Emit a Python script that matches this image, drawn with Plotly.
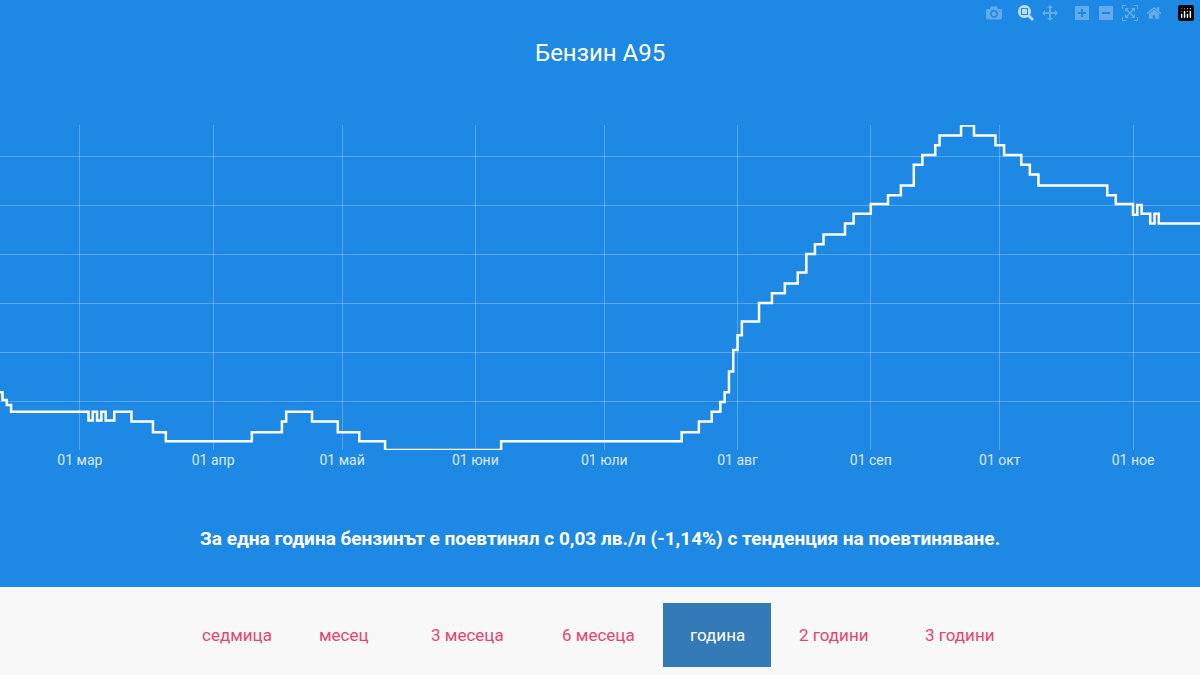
import plotly.graph_objects as go

# price steps (date of change, price)
dates = [
    "2021-02-10", "2021-02-11", "2021-02-12", "2021-02-13",
    "2021-03-03", "2021-03-04", "2021-03-05", "2021-03-06", "2021-03-07", "2021-03-09",
    "2021-03-13", "2021-03-18", "2021-03-21", "2021-04-10", "2021-04-17", "2021-04-18",
    "2021-04-24", "2021-04-30", "2021-05-05", "2021-05-11", "2021-06-07",
    "2021-07-19", "2021-07-23", "2021-07-26", "2021-07-28", "2021-07-29", "2021-07-30",
    "2021-07-31", "2021-08-01", "2021-08-02", "2021-08-06", "2021-08-09", "2021-08-12",
    "2021-08-15", "2021-08-17", "2021-08-19", "2021-08-21", "2021-08-26", "2021-08-28",
    "2021-09-01", "2021-09-05", "2021-09-08", "2021-09-11", "2021-09-13", "2021-09-16",
    "2021-09-17", "2021-09-22", "2021-09-25", "2021-09-30", "2021-10-02", "2021-10-06",
    "2021-10-08", "2021-10-10", "2021-10-26", "2021-10-28", "2021-11-01", "2021-11-02",
    "2021-11-03", "2021-11-05", "2021-11-06", "2021-11-07", "2021-11-17",
]
prices = [
    2.259, 2.251, 2.246, 2.239,
    2.230, 2.239, 2.230, 2.239, 2.230, 2.239,
    2.229, 2.218, 2.209, 2.218, 2.229, 2.239,
    2.229, 2.218, 2.209, 2.200, 2.209,
    2.218, 2.229, 2.239, 2.249, 2.259, 2.280,
    2.302, 2.317, 2.331, 2.350, 2.360, 2.370,
    2.381, 2.400, 2.410, 2.420, 2.431, 2.441,
    2.451, 2.460, 2.470, 2.491, 2.501, 2.511,
    2.521, 2.531, 2.521, 2.511, 2.501, 2.491,
    2.481, 2.470, 2.460, 2.451, 2.440, 2.450,
    2.441, 2.431, 2.441, 2.431, 2.431,
]
tick_vals = ["2021-03-01", "2021-04-01", "2021-05-01", "2021-06-01", "2021-07-01",
             "2021-08-01", "2021-09-01", "2021-10-01", "2021-11-01"]
tick_text = ["01 мар", "01 апр", "01 май", "01 юни", "01 юли",
             "01 авг", "01 сеп", "01 окт", "01 ное"]
periods = ["седмица", "месец", "3 месеца", "6 месеца", "година", "2 години", "3 години"]
period_x = [237, 344, 467, 598, 717, 834, 960]
active = "година"

BG = "#1e88e5"
W, H = 1200, 675
top, bottom = 125, 450

def py(p):
    # pixel row -> paper y
    return (bottom - p) / (bottom - top)

fig = go.Figure()
fig.add_trace(go.Scatter(x=dates, y=prices, mode="lines", line_shape="hv",
                         line=dict(color="white", width=2.5), hoverinfo="skip"))

fig.update_layout(
    width=W, height=H, paper_bgcolor=BG, plot_bgcolor=BG, showlegend=False,
    margin=dict(l=0, r=0, t=top, b=H - bottom),
    font=dict(family="Roboto", color="white"),
    xaxis=dict(range=["2021-02-10 10:00", "2021-11-16 14:00"], tickvals=tick_vals,
               ticktext=tick_text, showgrid=True, gridcolor="rgba(255,255,255,0.25)",
               tickfont=dict(size=14, color="rgba(255,255,255,0.85)"), zeroline=False,
               showline=False, ticks=""),
    yaxis=dict(range=[2.2, 2.2 + 325 / 980], dtick=0.05, tick0=2.2, showticklabels=False,
               showgrid=True, gridcolor="rgba(255,255,255,0.25)", zeroline=False),
)

shapes = [dict(type="rect", xref="paper", yref="paper", x0=0, x1=1, y0=py(H), y1=py(587),
               fillcolor="#f8f8f8", line_width=0, layer="below")]
bx = period_x[periods.index(active)]
shapes.append(dict(type="rect", xref="paper", yref="paper", x0=(bx - 54) / W, x1=(bx + 54) / W,
                   y0=py(667), y1=py(603), fillcolor="#337ab7", line_width=0))
fig.update_layout(shapes=shapes)

fig.add_annotation(text="Бензин А95", x=0.5, y=py(37), xref="paper", yref="paper",
                   showarrow=False, font=dict(size=24, color="white"))
fig.add_annotation(text="<b>За една година бензинът е поевтинял с 0,03 лв./л (-1,14%) с тенденция на поевтиняване.</b>",
                   x=0.5, y=py(552), xref="paper", yref="paper", showarrow=False,
                   font=dict(size=19, color="white"))
for name, x in zip(periods, period_x):
    fig.add_annotation(text=name, x=x / W, y=py(635), xref="paper", yref="paper",
                       xanchor="center", yanchor="middle", showarrow=False,
                       font=dict(size=17, color="white" if name == active else "#e5466f"))

fig.write_html("out.html", post_script="document.body.style.margin='0';")
